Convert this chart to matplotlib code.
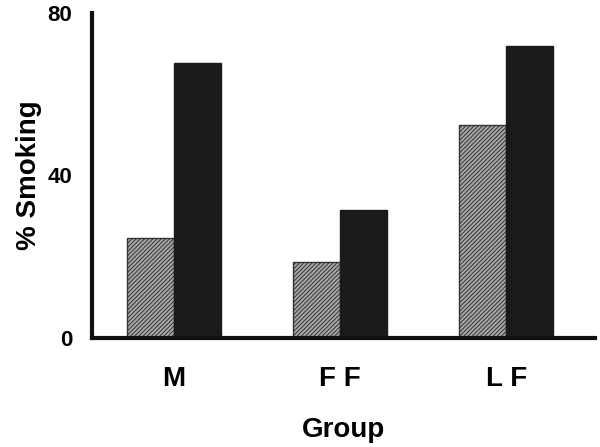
import matplotlib
matplotlib.use("Agg")
import matplotlib.pyplot as plt
import numpy as np

plt.rcParams["font.family"] = ["Liberation Sans", "DejaVu Sans"]
plt.rcParams["font.weight"] = "bold"
plt.rcParams["hatch.linewidth"] = 0.7

groups = ["M", "F F", "L F"]
hatched_vals = [24.7, 18.8, 52.5]
black_vals = [67.8, 31.4, 71.8]
yticks = [0, 40, 80]

x = np.arange(len(groups))
width = 0.285

fig = plt.figure(figsize=(6, 4.47), dpi=100)
ax = fig.add_axes([0.153, 0.244, 0.839, 0.727])

ax.bar(x - width / 2, hatched_vals, width, color="#a8a8a8", edgecolor="#333333",
       hatch="////////", linewidth=1.0)
ax.bar(x + width / 2, black_vals, width, color="#1a1a1a", edgecolor="#1a1a1a",
       linewidth=1.0)

ax.set_xlim(-0.494, 2.536)
ax.set_ylim(0, 80)
ax.set_yticks(yticks)
ax.set_yticklabels([str(v) for v in yticks], fontsize=16, fontweight="bold")
ax.set_xticks(x)
ax.set_xticklabels(groups, fontsize=20, fontweight="bold")
ax.tick_params(axis="both", length=0)
ax.tick_params(axis="x", pad=20)
ax.tick_params(axis="y", pad=14)

for side in ["top", "right"]:
    ax.spines[side].set_visible(False)
for side in ["left", "bottom"]:
    ax.spines[side].set_linewidth(3)
    ax.spines[side].set_color("#111111")

ax.set_xlabel("Group", fontsize=20, fontweight="bold", labelpad=18)
ax.set_ylabel("% Smoking", fontsize=20, fontweight="bold", labelpad=4)

fig.savefig("out.png", dpi=100)
